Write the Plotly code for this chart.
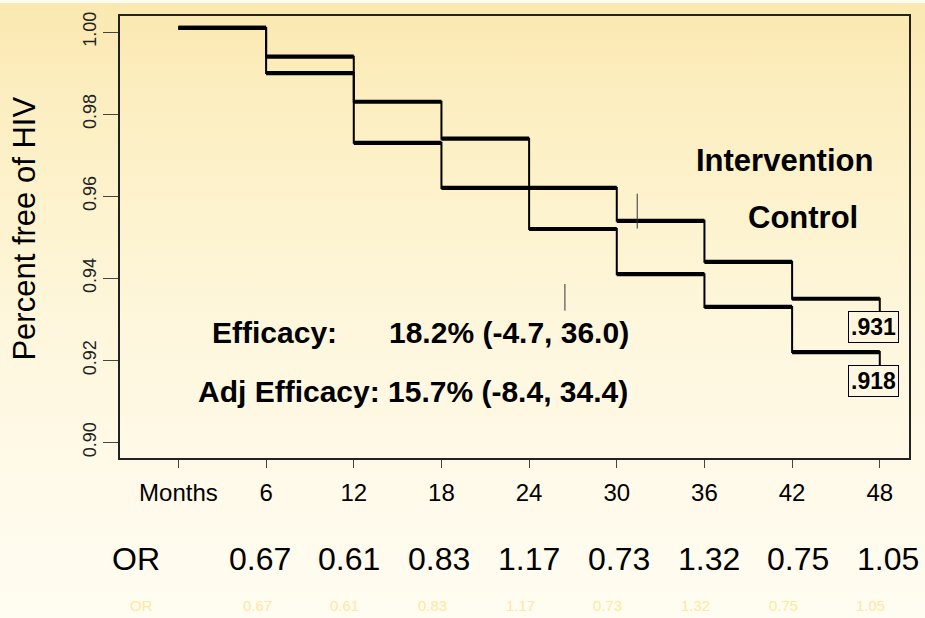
import base64
import plotly.graph_objects as go

# ---- data -------------------------------------------------------------
months = [0, 6, 12, 18, 24, 30, 36, 42, 48]
intervention = [1.001, 0.994, 0.983, 0.974, 0.962, 0.954, 0.944, 0.935, 0.931]
control = [1.001, 0.990, 0.973, 0.962, 0.952, 0.941, 0.933, 0.922, 0.918]
odds_ratios = [0.67, 0.61, 0.83, 1.17, 0.73, 1.32, 0.75, 1.05]
y_ticks = [0.90, 0.92, 0.94, 0.96, 0.98, 1.00]
x_tick_labels = ["Months", "6", "12", "18", "24", "30", "36", "42", "48"]
# short vertical censoring marks (month, low, high)
censor_months = [31.4, 26.45]
censor_low = [0.9521, 0.9321]
censor_high = [0.9606, 0.9386]
efficacy = "18.2% (-4.7, 36.0)"
adj_efficacy = "15.7% (-8.4, 34.4)"

# ---- layout geometry (pixels) -----------------------------------------
W, H = 925, 618
ML, MR, MT, MB = 120, 16, 13, 160
PW, PH = W - ML - MR, H - MT - MB
FONT = "Liberation Sans, Arial, Helvetica, sans-serif"
INK = "#000000"


def px(x):
    return (x - ML) / PW


def py(y):
    return (H - MB - y) / PH


def horizontals(xs, ys):
    hx, hy = [], []
    for i in range(len(xs) - 1):
        hx += [xs[i], xs[i + 1], None]
        hy += [ys[i], ys[i], None]
    return hx, hy


fig = go.Figure()

for series in (intervention, control):
    # thin risers of the step function
    fig.add_trace(go.Scatter(x=months, y=series, mode="lines", line_shape="hv",
                             line=dict(color=INK, width=2), hoverinfo="skip",
                             showlegend=False))
    # heavier horizontal treads
    hx, hy = horizontals(months, series)
    fig.add_trace(go.Scatter(x=hx, y=hy, mode="lines",
                             line=dict(color=INK, width=4.2), hoverinfo="skip",
                             showlegend=False))

cx, cy = [], []
for m, lo, hi in zip(censor_months, censor_low, censor_high):
    cx += [m, m, None]
    cy += [lo, hi, None]
fig.add_trace(go.Scatter(x=cx, y=cy, mode="lines",
                         line=dict(color="#333333", width=1), hoverinfo="skip",
                         showlegend=False))

# ---- background gradient ----------------------------------------------
svg = (
    "<svg xmlns='http://www.w3.org/2000/svg' width='925' height='618' "
    "preserveAspectRatio='none'><defs><linearGradient id='g' x1='0' y1='0' "
    "x2='0' y2='1'>"
    "<stop offset='0' stop-color='#FBE8B0'/>"
    "<stop offset='0.15' stop-color='#FCEEC0'/>"
    "<stop offset='0.35' stop-color='#FDF3CF'/>"
    "<stop offset='0.55' stop-color='#FEF7DE'/>"
    "<stop offset='0.8' stop-color='#FFFAEA'/>"
    "<stop offset='1' stop-color='#FFFCF1'/>"
    "</linearGradient></defs><rect width='925' height='618' fill='url(#g)'/></svg>"
)
bg_src = "data:image/svg+xml;base64," + base64.b64encode(svg.encode()).decode()

annotations = []


def text(x, y, s, size, bold=False, color=INK, angle=0, xanchor="center"):
    annotations.append(dict(
        x=x, y=y, xref="paper", yref="paper", text=s, showarrow=False,
        xanchor=xanchor, yanchor="middle", textangle=angle,
        font=dict(family=FONT, size=size, color=color,
                  weight="bold" if bold else "normal")))


text(px(25), py(227), "Percent free of HIV", 31, angle=-90)
text(px(784), py(158), "Intervention", 31, bold=True)
text(px(803), py(216), "Control", 31, bold=True)
text(px(274), py(332), "Efficacy:", 30, bold=True)
text(px(509), py(332), efficacy, 30, bold=True)
text(px(413), py(391), "Adj Efficacy: " + adj_efficacy, 30, bold=True)

# odds ratio row and its faint echo
text(px(136), py(560), "OR", 32)
for i, v in enumerate(odds_ratios):
    text(px(259.6 + i * 89.8), py(560), f"{v:.2f}", 32)
FAINT = "#FFE7A2"
text(px(141), py(607), "OR", 15, color=FAINT)
for i, v in enumerate(odds_ratios):
    text(px(257 + i * 87.7), py(607), f"{v:.2f}", 15, color=FAINT)

# boxed 48-month estimates at the ends of the curves
for series, bg in ((intervention, "#FEF6DC"), (control, "#FEF8E3")):
    v = series[-1]
    annotations.append(dict(
        x=months[-1], y=v, xref="x", yref="y", text=f"{v:.3f}"[1:],
        showarrow=False, xanchor="center", yanchor="top", xshift=-6, yshift=4,
        bgcolor=bg, bordercolor=INK, borderwidth=1, borderpad=2,
        font=dict(family=FONT, size=23, color=INK, weight="bold")))

fig.update_layout(
    width=W, height=H,
    margin=dict(l=ML, r=MR, t=MT, b=MB, pad=0),
    paper_bgcolor="#FFFCF1", plot_bgcolor="rgba(0,0,0,0)",
    showlegend=False,
    images=[dict(source=bg_src, xref="paper", yref="paper",
                 x=-ML / PW, y=1 + MT / PH, sizex=W / PW, sizey=H / PH,
                 xanchor="left", yanchor="top", sizing="stretch",
                 layer="below")],
    annotations=annotations,
    xaxis=dict(range=[-4, 50], tickvals=months, ticktext=x_tick_labels,
               showgrid=False, zeroline=False, showline=True, mirror=True,
               linecolor="#222222", linewidth=1.5, ticks="outside",
               ticklen=8, tickwidth=1, tickcolor="#444444",
               ticklabelstandoff=4,
               tickfont=dict(family=FONT, size=24, color=INK)),
    yaxis=dict(range=[0.8962, 1.0039], tickvals=y_ticks,
               ticktext=[f"{t:.2f}" for t in y_ticks], tickangle=-90,
               showgrid=False, zeroline=False, showline=True, mirror=True,
               linecolor="#222222", linewidth=1.5, ticks="outside",
               ticklen=15, tickwidth=1, tickcolor="#444444",
               tickfont=dict(family=FONT, size=18, color="#222222")),
)

fig.write_html("out.html")
